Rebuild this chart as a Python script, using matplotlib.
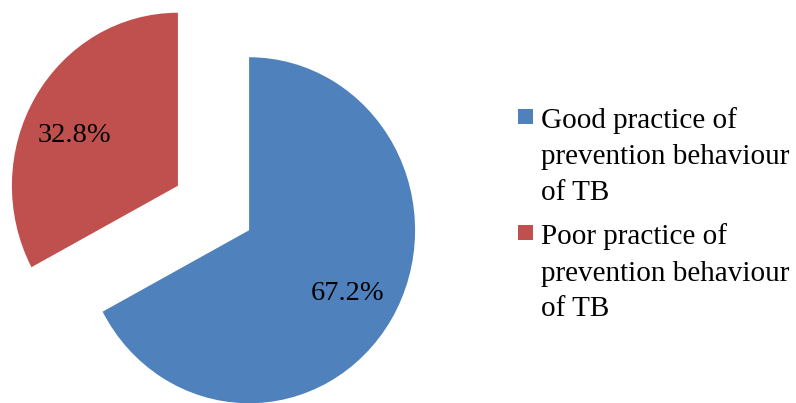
import matplotlib
matplotlib.use("Agg")
import matplotlib.pyplot as plt
from matplotlib.patches import Rectangle

plt.rcParams['font.family'] = ['Liberation Serif', 'DejaVu Serif']

labels = ["Good practice of\nprevention behaviour\nof TB",
          "Poor practice of\nprevention behaviour\nof TB"]
values = [67.2, 32.8]
colors = ["#4F81BD", "#C0504D"]

W, H = 796, 403
fig = plt.figure(figsize=(W / 100, H / 100), dpi=100)
ax = fig.add_axes([0, 0, 1, 1])

cx, cy = 213.5, 195.0   # pixel centre (from bottom)
rx, ry = 166.0, 173.0

def px2data(px, py_top):
    return (px - cx) / rx, ((H - py_top) - cy) / ry

wedges, texts, autotexts = ax.pie(
    values, colors=colors, startangle=90, counterclock=False,
    explode=[0.25, 0.25], autopct=lambda p: f"{p:.1f}%", pctdistance=0.69,
    wedgeprops=dict(linewidth=0), textprops=dict(fontsize=20.5, color="black"),
    normalize=True)
ax.set_aspect('auto')
ax.set_xlim(-cx / rx, (W - cx) / rx)
ax.set_ylim(-cy / ry, (H - cy) / ry)
ax.axis('off')

# label placement (pixel centre x, baseline y)
label_pos = [(348, 300), (74, 142)]
for t, (lx, ly) in zip(autotexts, label_pos):
    t.set_position(px2data(lx, ly))
    t.set_ha('center')
    t.set_va('baseline')

# legend drawn manually
baselines = [[128, 164, 200], [244, 281, 316]]
for lab, col, bl in zip(labels, colors, baselines):
    fig.patches.append(Rectangle((518 / W, 1 - (bl[0] - 4) / H), 15 / W, 15 / H,
                                 transform=fig.transFigure, facecolor=col,
                                 edgecolor='none'))
    for line, b in zip(lab.split("\n"), bl):
        fig.text(541 / W, 1 - b / H, line, fontsize=21, va='baseline', ha='left')

fig.savefig("out.png", dpi=100)
